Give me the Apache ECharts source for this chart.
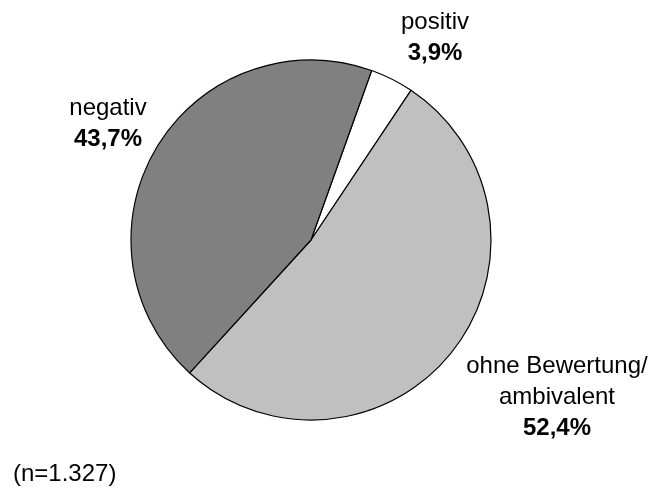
<!DOCTYPE html>
<html>
<head>
<meta charset="utf-8">
<style>
  html, body { margin: 0; padding: 0; background: #fff; }
  #chart { width: 656px; height: 488px; }
</style>
<script src="https://cdn.jsdelivr.net/npm/echarts@6/dist/echarts.min.js"></script>
</head>
<body>
<div id="chart"></div>
<script>
// Bewertung der Berichterstattung (Anteile in %)
const categories = ['positiv', 'ohne Bewertung/\nambivalent', 'negativ'];
const shares = [3.9, 52.4, 43.7];
const sliceColors = ['#ffffff', '#c0c0c0', '#808080'];
const sampleNote = '(n=1.327)';

// label anchor points (px) for each slice, same order as categories
const labelAnchors = [[435, 38], [557, 397], [108, 124]];

const fontFamily = '"Liberation Sans", Arial, Helvetica, sans-serif';

const chart = echarts.init(document.getElementById('chart'), null, { renderer: 'canvas' });

const fmtPct = v => v.toFixed(1).replace('.', ',') + '%';

chart.setOption({
  animation: false,
  backgroundColor: '#ffffff',
  series: [{
    type: 'pie',
    center: [311, 240],
    radius: 180,
    startAngle: 70.3,
    clockwise: true,
    avoidLabelOverlap: false,
    silent: true,
    data: categories.map((name, i) => ({
      name: name,
      value: shares[i],
      itemStyle: { color: sliceColors[i] }
    })),
    itemStyle: { borderColor: '#000000', borderWidth: 1.2 },
    label: {
      show: true,
      position: 'outside',
      formatter: p => '{n|' + p.name + '}\n{v|' + fmtPct(p.value) + '}',
      rich: {
        n: { fontFamily: fontFamily, fontSize: 24, color: '#000', lineHeight: 31, align: 'center' },
        v: { fontFamily: fontFamily, fontSize: 24, fontWeight: 'bold', color: '#000', lineHeight: 31, align: 'center' }
      }
    },
    labelLine: { show: false },
    labelLayout: p => ({
      x: labelAnchors[p.dataIndex][0],
      y: labelAnchors[p.dataIndex][1],
      align: 'center',
      verticalAlign: 'middle'
    })
  }],
  graphic: [{
    type: 'text',
    left: 13,
    top: 462,
    style: {
      text: sampleNote,
      fontFamily: fontFamily,
      fontSize: 24,
      fill: '#000'
    }
  }]
});
</script>
</body>
</html>
